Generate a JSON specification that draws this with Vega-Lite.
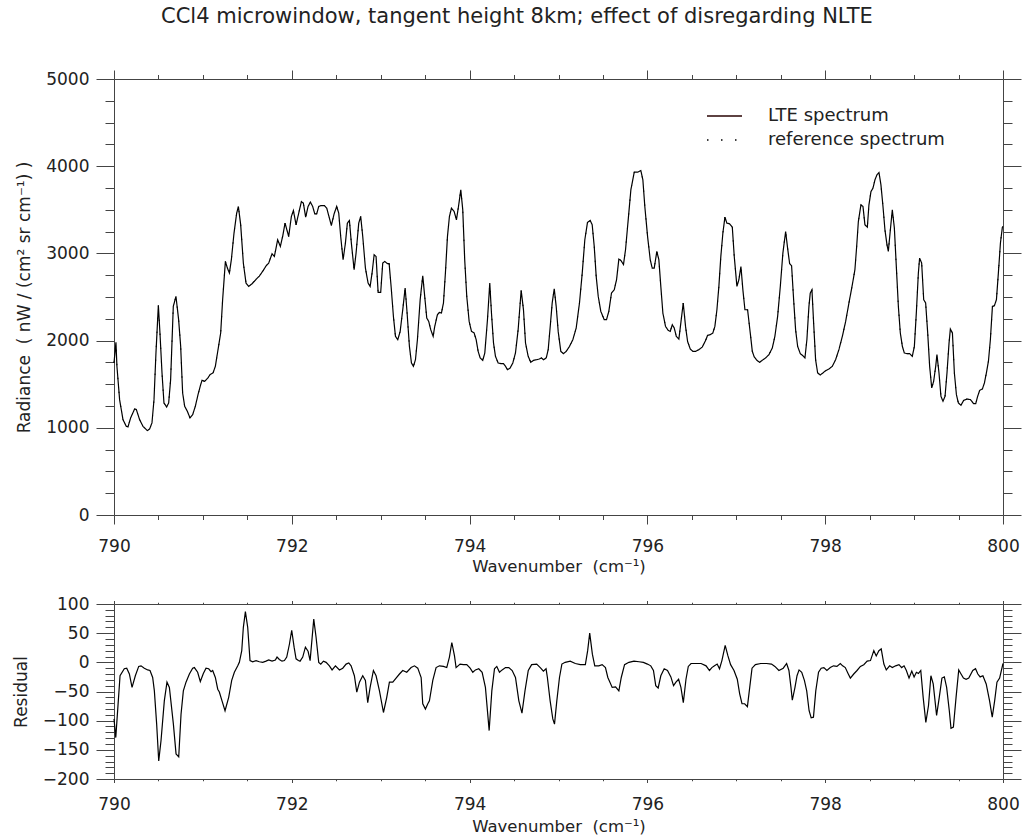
{
"$schema": "https://vega.github.io/schema/vega-lite/v6.json",
"background": "white",
"padding": {"left": 12, "top": 5, "right": 4, "bottom": 4},
"title": {"text": "CCl4 microwindow, tangent height 8km; effect of disregarding NLTE", "fontSize": 21, "fontWeight": "normal", "font": "DejaVu Sans", "color": "#222", "anchor": "middle", "frame": "bounds", "offset": 43},
"config": {
  "font": "DejaVu Sans",
  "view": {"stroke": null},
  "axis": {"domainColor": "#444", "tickColor": "#444", "labelColor": "#222", "titleColor": "#222", "labelFontSize": 17, "titleFontSize": 16.5, "titleFontWeight": "normal", "grid": false, "labelFont": "DejaVu Sans", "titleFont": "DejaVu Sans", "tickWidth": 1, "domainWidth": 1, "labelFlush": false, "labelOverlap": false}
},
"spacing": 89,
"bounds": "flush",
"datasets": {
"spec": [
{"wn":790.000,"lte":1745,"ref":1745},{"wn":790.022,"lte":1980,"ref":1980},{"wn":790.033,"lte":1705,"ref":1705},{"wn":790.063,"lte":1323,"ref":1323},{"wn":790.101,"lte":1094,"ref":1094},{"wn":790.138,"lte":1017,"ref":1017},{"wn":790.157,"lte":1010,"ref":1010},{"wn":790.187,"lte":1113,"ref":1113},{"wn":790.232,"lte":1216,"ref":1216},{"wn":790.251,"lte":1210,"ref":1210},{"wn":790.288,"lte":1094,"ref":1094},{"wn":790.326,"lte":1017,"ref":1017},{"wn":790.375,"lte":968,"ref":968},{"wn":790.401,"lte":987,"ref":987},{"wn":790.427,"lte":1056,"ref":1056},{"wn":790.450,"lte":1323,"ref":1323},{"wn":790.472,"lte":1858,"ref":1858},{"wn":790.499,"lte":2404,"ref":2404},{"wn":790.517,"lte":2087,"ref":2087},{"wn":790.540,"lte":1629,"ref":1629},{"wn":790.562,"lte":1285,"ref":1285},{"wn":790.592,"lte":1239,"ref":1239},{"wn":790.615,"lte":1285,"ref":1285},{"wn":790.637,"lte":1552,"ref":1552},{"wn":790.667,"lte":2392,"ref":2392},{"wn":790.697,"lte":2507,"ref":2507},{"wn":790.727,"lte":2240,"ref":2240},{"wn":790.750,"lte":1934,"ref":1934},{"wn":790.772,"lte":1400,"ref":1400},{"wn":790.795,"lte":1247,"ref":1247},{"wn":790.825,"lte":1189,"ref":1189},{"wn":790.855,"lte":1113,"ref":1113},{"wn":790.885,"lte":1151,"ref":1151},{"wn":790.915,"lte":1247,"ref":1247},{"wn":790.945,"lte":1380,"ref":1380},{"wn":790.975,"lte":1495,"ref":1495},{"wn":790.990,"lte":1544,"ref":1544},{"wn":791.020,"lte":1533,"ref":1533},{"wn":791.057,"lte":1572,"ref":1572},{"wn":791.080,"lte":1610,"ref":1610},{"wn":791.114,"lte":1629,"ref":1629},{"wn":791.140,"lte":1705,"ref":1705},{"wn":791.170,"lte":1896,"ref":1896},{"wn":791.200,"lte":2087,"ref":2087},{"wn":791.222,"lte":2469,"ref":2469},{"wn":791.253,"lte":2908,"ref":2908},{"wn":791.275,"lte":2832,"ref":2832},{"wn":791.298,"lte":2775,"ref":2775},{"wn":791.320,"lte":2927,"ref":2927},{"wn":791.350,"lte":3233,"ref":3233},{"wn":791.380,"lte":3462,"ref":3462},{"wn":791.399,"lte":3538,"ref":3538},{"wn":791.425,"lte":3328,"ref":3328},{"wn":791.455,"lte":2889,"ref":2889},{"wn":791.485,"lte":2660,"ref":2660},{"wn":791.515,"lte":2621,"ref":2621},{"wn":791.553,"lte":2652,"ref":2652},{"wn":791.601,"lte":2706,"ref":2706},{"wn":791.635,"lte":2740,"ref":2740},{"wn":791.680,"lte":2806,"ref":2806},{"wn":791.711,"lte":2858,"ref":2858},{"wn":791.740,"lte":2889,"ref":2889},{"wn":791.778,"lte":2996,"ref":2996},{"wn":791.804,"lte":2965,"ref":2965},{"wn":791.841,"lte":3156,"ref":3156},{"wn":791.871,"lte":3080,"ref":3080},{"wn":791.897,"lte":3194,"ref":3194},{"wn":791.924,"lte":3347,"ref":3347},{"wn":791.965,"lte":3194,"ref":3194},{"wn":791.995,"lte":3423,"ref":3423},{"wn":792.018,"lte":3492,"ref":3492},{"wn":792.048,"lte":3328,"ref":3328},{"wn":792.078,"lte":3462,"ref":3462},{"wn":792.108,"lte":3595,"ref":3595},{"wn":792.130,"lte":3576,"ref":3576},{"wn":792.156,"lte":3416,"ref":3416},{"wn":792.183,"lte":3538,"ref":3538},{"wn":792.209,"lte":3588,"ref":3588},{"wn":792.235,"lte":3538,"ref":3538},{"wn":792.258,"lte":3454,"ref":3454},{"wn":792.280,"lte":3454,"ref":3454},{"wn":792.303,"lte":3538,"ref":3538},{"wn":792.329,"lte":3549,"ref":3549},{"wn":792.367,"lte":3549,"ref":3549},{"wn":792.393,"lte":3519,"ref":3519},{"wn":792.423,"lte":3404,"ref":3404},{"wn":792.445,"lte":3320,"ref":3320},{"wn":792.476,"lte":3454,"ref":3454},{"wn":792.505,"lte":3538,"ref":3538},{"wn":792.528,"lte":3462,"ref":3462},{"wn":792.550,"lte":3194,"ref":3194},{"wn":792.577,"lte":2927,"ref":2927},{"wn":792.603,"lte":3118,"ref":3118},{"wn":792.625,"lte":3347,"ref":3347},{"wn":792.648,"lte":3377,"ref":3377},{"wn":792.670,"lte":3118,"ref":3118},{"wn":792.701,"lte":2812,"ref":2812},{"wn":792.723,"lte":3004,"ref":3004},{"wn":792.753,"lte":3347,"ref":3347},{"wn":792.775,"lte":3423,"ref":3423},{"wn":792.798,"lte":3194,"ref":3194},{"wn":792.828,"lte":2832,"ref":2832},{"wn":792.858,"lte":2660,"ref":2660},{"wn":792.881,"lte":2621,"ref":2621},{"wn":792.903,"lte":2775,"ref":2775},{"wn":792.926,"lte":2984,"ref":2984},{"wn":792.948,"lte":2965,"ref":2965},{"wn":792.971,"lte":2553,"ref":2553},{"wn":793.000,"lte":2553,"ref":2553},{"wn":793.023,"lte":2889,"ref":2889},{"wn":793.045,"lte":2908,"ref":2908},{"wn":793.076,"lte":2882,"ref":2882},{"wn":793.095,"lte":2882,"ref":2882},{"wn":793.117,"lte":2621,"ref":2621},{"wn":793.143,"lte":2278,"ref":2278},{"wn":793.166,"lte":2049,"ref":2049},{"wn":793.192,"lte":2010,"ref":2010},{"wn":793.219,"lte":2106,"ref":2106},{"wn":793.248,"lte":2354,"ref":2354},{"wn":793.275,"lte":2603,"ref":2603},{"wn":793.297,"lte":2316,"ref":2316},{"wn":793.323,"lte":1934,"ref":1934},{"wn":793.346,"lte":1743,"ref":1743},{"wn":793.368,"lte":1705,"ref":1705},{"wn":793.391,"lte":1781,"ref":1781},{"wn":793.413,"lte":2010,"ref":2010},{"wn":793.444,"lte":2469,"ref":2469},{"wn":793.473,"lte":2744,"ref":2744},{"wn":793.495,"lte":2507,"ref":2507},{"wn":793.518,"lte":2259,"ref":2259},{"wn":793.540,"lte":2220,"ref":2220},{"wn":793.563,"lte":2125,"ref":2125},{"wn":793.590,"lte":2049,"ref":2049},{"wn":793.608,"lte":2163,"ref":2163},{"wn":793.638,"lte":2297,"ref":2297},{"wn":793.661,"lte":2324,"ref":2324},{"wn":793.683,"lte":2316,"ref":2316},{"wn":793.706,"lte":2431,"ref":2431},{"wn":793.728,"lte":2775,"ref":2775},{"wn":793.751,"lte":3194,"ref":3194},{"wn":793.773,"lte":3423,"ref":3423},{"wn":793.796,"lte":3519,"ref":3519},{"wn":793.826,"lte":3481,"ref":3481},{"wn":793.852,"lte":3385,"ref":3385},{"wn":793.875,"lte":3538,"ref":3538},{"wn":793.901,"lte":3729,"ref":3729},{"wn":793.923,"lte":3500,"ref":3500},{"wn":793.945,"lte":2927,"ref":2927},{"wn":793.968,"lte":2507,"ref":2507},{"wn":793.995,"lte":2220,"ref":2220},{"wn":794.021,"lte":2106,"ref":2106},{"wn":794.051,"lte":2087,"ref":2087},{"wn":794.074,"lte":2010,"ref":2010},{"wn":794.096,"lte":1877,"ref":1877},{"wn":794.119,"lte":1801,"ref":1801},{"wn":794.148,"lte":1774,"ref":1774},{"wn":794.171,"lte":1858,"ref":1858},{"wn":794.201,"lte":2240,"ref":2240},{"wn":794.227,"lte":2660,"ref":2660},{"wn":794.246,"lte":2316,"ref":2316},{"wn":794.269,"lte":1972,"ref":1972},{"wn":794.291,"lte":1820,"ref":1820},{"wn":794.321,"lte":1743,"ref":1743},{"wn":794.351,"lte":1736,"ref":1736},{"wn":794.381,"lte":1736,"ref":1736},{"wn":794.404,"lte":1705,"ref":1705},{"wn":794.426,"lte":1667,"ref":1667},{"wn":794.456,"lte":1686,"ref":1686},{"wn":794.486,"lte":1743,"ref":1743},{"wn":794.516,"lte":1858,"ref":1858},{"wn":794.546,"lte":2125,"ref":2125},{"wn":794.580,"lte":2576,"ref":2576},{"wn":794.606,"lte":2354,"ref":2354},{"wn":794.629,"lte":1972,"ref":1972},{"wn":794.659,"lte":1820,"ref":1820},{"wn":794.688,"lte":1751,"ref":1751},{"wn":794.719,"lte":1774,"ref":1774},{"wn":794.756,"lte":1781,"ref":1781},{"wn":794.783,"lte":1789,"ref":1789},{"wn":794.809,"lte":1801,"ref":1801},{"wn":794.831,"lte":1781,"ref":1781},{"wn":794.862,"lte":1801,"ref":1801},{"wn":794.884,"lte":1896,"ref":1896},{"wn":794.907,"lte":2163,"ref":2163},{"wn":794.929,"lte":2431,"ref":2431},{"wn":794.952,"lte":2595,"ref":2595},{"wn":794.974,"lte":2392,"ref":2392},{"wn":794.997,"lte":2100,"ref":2100},{"wn":795.026,"lte":1877,"ref":1877},{"wn":795.056,"lte":1850,"ref":1850},{"wn":795.087,"lte":1877,"ref":1877},{"wn":795.124,"lte":1934,"ref":1934},{"wn":795.161,"lte":2010,"ref":2010},{"wn":795.199,"lte":2144,"ref":2144},{"wn":795.236,"lte":2431,"ref":2431},{"wn":795.267,"lte":2775,"ref":2775},{"wn":795.296,"lte":3156,"ref":3156},{"wn":795.326,"lte":3355,"ref":3355},{"wn":795.357,"lte":3377,"ref":3377},{"wn":795.379,"lte":3328,"ref":3328},{"wn":795.402,"lte":3080,"ref":3080},{"wn":795.424,"lte":2736,"ref":2736},{"wn":795.447,"lte":2507,"ref":2507},{"wn":795.476,"lte":2335,"ref":2335},{"wn":795.514,"lte":2240,"ref":2240},{"wn":795.540,"lte":2240,"ref":2240},{"wn":795.566,"lte":2335,"ref":2335},{"wn":795.596,"lte":2545,"ref":2545},{"wn":795.627,"lte":2583,"ref":2583},{"wn":795.653,"lte":2698,"ref":2698},{"wn":795.679,"lte":2935,"ref":2935},{"wn":795.701,"lte":2920,"ref":2920},{"wn":795.731,"lte":2873,"ref":2873},{"wn":795.754,"lte":3042,"ref":3042},{"wn":795.784,"lte":3385,"ref":3385},{"wn":795.814,"lte":3729,"ref":3729},{"wn":795.852,"lte":3931,"ref":3931},{"wn":795.889,"lte":3931,"ref":3931},{"wn":795.926,"lte":3950,"ref":3950},{"wn":795.949,"lte":3844,"ref":3844},{"wn":795.971,"lte":3538,"ref":3538},{"wn":796.002,"lte":3194,"ref":3194},{"wn":796.032,"lte":2927,"ref":2927},{"wn":796.054,"lte":2832,"ref":2832},{"wn":796.077,"lte":2832,"ref":2832},{"wn":796.106,"lte":3023,"ref":3023},{"wn":796.129,"lte":2927,"ref":2927},{"wn":796.151,"lte":2621,"ref":2621},{"wn":796.174,"lte":2316,"ref":2316},{"wn":796.204,"lte":2163,"ref":2163},{"wn":796.234,"lte":2117,"ref":2117},{"wn":796.257,"lte":2106,"ref":2106},{"wn":796.280,"lte":2182,"ref":2182},{"wn":796.302,"lte":2144,"ref":2144},{"wn":796.325,"lte":2049,"ref":2049},{"wn":796.354,"lte":2018,"ref":2018},{"wn":796.376,"lte":2201,"ref":2201},{"wn":796.403,"lte":2431,"ref":2431},{"wn":796.429,"lte":2163,"ref":2163},{"wn":796.452,"lte":1991,"ref":1991},{"wn":796.482,"lte":1904,"ref":1904},{"wn":796.511,"lte":1877,"ref":1877},{"wn":796.542,"lte":1877,"ref":1877},{"wn":796.579,"lte":1896,"ref":1896},{"wn":796.617,"lte":1926,"ref":1926},{"wn":796.654,"lte":2000,"ref":2000},{"wn":796.677,"lte":2060,"ref":2060},{"wn":796.707,"lte":2068,"ref":2068},{"wn":796.736,"lte":2087,"ref":2087},{"wn":796.759,"lte":2163,"ref":2163},{"wn":796.782,"lte":2354,"ref":2354},{"wn":796.804,"lte":2621,"ref":2621},{"wn":796.826,"lte":2965,"ref":2965},{"wn":796.849,"lte":3233,"ref":3233},{"wn":796.872,"lte":3416,"ref":3416},{"wn":796.894,"lte":3347,"ref":3347},{"wn":796.924,"lte":3339,"ref":3339},{"wn":796.955,"lte":3301,"ref":3301},{"wn":796.977,"lte":2965,"ref":2965},{"wn":797.007,"lte":2621,"ref":2621},{"wn":797.029,"lte":2698,"ref":2698},{"wn":797.052,"lte":2850,"ref":2850},{"wn":797.074,"lte":2583,"ref":2583},{"wn":797.097,"lte":2354,"ref":2354},{"wn":797.127,"lte":2354,"ref":2354},{"wn":797.157,"lte":2087,"ref":2087},{"wn":797.180,"lte":1877,"ref":1877},{"wn":797.202,"lte":1812,"ref":1812},{"wn":797.232,"lte":1774,"ref":1774},{"wn":797.262,"lte":1751,"ref":1751},{"wn":797.292,"lte":1774,"ref":1774},{"wn":797.329,"lte":1801,"ref":1801},{"wn":797.367,"lte":1839,"ref":1839},{"wn":797.405,"lte":1915,"ref":1915},{"wn":797.434,"lte":2049,"ref":2049},{"wn":797.465,"lte":2278,"ref":2278},{"wn":797.495,"lte":2621,"ref":2621},{"wn":797.524,"lte":3004,"ref":3004},{"wn":797.555,"lte":3251,"ref":3251},{"wn":797.577,"lte":3061,"ref":3061},{"wn":797.600,"lte":2882,"ref":2882},{"wn":797.622,"lte":2858,"ref":2858},{"wn":797.645,"lte":2469,"ref":2469},{"wn":797.667,"lte":2125,"ref":2125},{"wn":797.690,"lte":1934,"ref":1934},{"wn":797.720,"lte":1850,"ref":1850},{"wn":797.749,"lte":1827,"ref":1827},{"wn":797.772,"lte":1801,"ref":1801},{"wn":797.794,"lte":2010,"ref":2010},{"wn":797.817,"lte":2392,"ref":2392},{"wn":797.832,"lte":2545,"ref":2545},{"wn":797.851,"lte":2583,"ref":2583},{"wn":797.870,"lte":2201,"ref":2201},{"wn":797.892,"lte":1781,"ref":1781},{"wn":797.915,"lte":1629,"ref":1629},{"wn":797.945,"lte":1606,"ref":1606},{"wn":797.974,"lte":1629,"ref":1629},{"wn":798.005,"lte":1655,"ref":1655},{"wn":798.042,"lte":1675,"ref":1675},{"wn":798.080,"lte":1705,"ref":1705},{"wn":798.117,"lte":1781,"ref":1781},{"wn":798.154,"lte":1896,"ref":1896},{"wn":798.193,"lte":2049,"ref":2049},{"wn":798.230,"lte":2220,"ref":2220},{"wn":798.267,"lte":2431,"ref":2431},{"wn":798.305,"lte":2640,"ref":2640},{"wn":798.334,"lte":2812,"ref":2812},{"wn":798.354,"lte":3080,"ref":3080},{"wn":798.373,"lte":3366,"ref":3366},{"wn":798.402,"lte":3557,"ref":3557},{"wn":798.425,"lte":3538,"ref":3538},{"wn":798.447,"lte":3328,"ref":3328},{"wn":798.474,"lte":3301,"ref":3301},{"wn":798.492,"lte":3557,"ref":3557},{"wn":798.515,"lte":3710,"ref":3710},{"wn":798.537,"lte":3748,"ref":3748},{"wn":798.560,"lte":3844,"ref":3844},{"wn":798.582,"lte":3901,"ref":3901},{"wn":798.605,"lte":3927,"ref":3927},{"wn":798.627,"lte":3786,"ref":3786},{"wn":798.650,"lte":3538,"ref":3538},{"wn":798.672,"lte":3271,"ref":3271},{"wn":798.695,"lte":3099,"ref":3099},{"wn":798.710,"lte":3023,"ref":3023},{"wn":798.733,"lte":3271,"ref":3271},{"wn":798.755,"lte":3500,"ref":3500},{"wn":798.778,"lte":3290,"ref":3290},{"wn":798.800,"lte":2850,"ref":2850},{"wn":798.823,"lte":2392,"ref":2392},{"wn":798.845,"lte":2087,"ref":2087},{"wn":798.868,"lte":1934,"ref":1934},{"wn":798.890,"lte":1858,"ref":1858},{"wn":798.920,"lte":1850,"ref":1850},{"wn":798.950,"lte":1850,"ref":1850},{"wn":798.980,"lte":1820,"ref":1820},{"wn":799.003,"lte":1934,"ref":1934},{"wn":799.025,"lte":2316,"ref":2316},{"wn":799.048,"lte":2775,"ref":2775},{"wn":799.062,"lte":2946,"ref":2946},{"wn":799.085,"lte":2889,"ref":2889},{"wn":799.108,"lte":2469,"ref":2469},{"wn":799.130,"lte":2431,"ref":2431},{"wn":799.153,"lte":2087,"ref":2087},{"wn":799.175,"lte":1705,"ref":1705},{"wn":799.198,"lte":1457,"ref":1457},{"wn":799.220,"lte":1533,"ref":1533},{"wn":799.243,"lte":1705,"ref":1705},{"wn":799.257,"lte":1839,"ref":1839},{"wn":799.280,"lte":1629,"ref":1629},{"wn":799.302,"lte":1361,"ref":1361},{"wn":799.325,"lte":1304,"ref":1304},{"wn":799.348,"lte":1361,"ref":1361},{"wn":799.370,"lte":1629,"ref":1629},{"wn":799.393,"lte":1972,"ref":1972},{"wn":799.408,"lte":2133,"ref":2133},{"wn":799.431,"lte":2087,"ref":2087},{"wn":799.453,"lte":1629,"ref":1629},{"wn":799.476,"lte":1380,"ref":1380},{"wn":799.498,"lte":1285,"ref":1285},{"wn":799.527,"lte":1258,"ref":1258},{"wn":799.558,"lte":1315,"ref":1315},{"wn":799.595,"lte":1330,"ref":1330},{"wn":799.633,"lte":1323,"ref":1323},{"wn":799.670,"lte":1277,"ref":1277},{"wn":799.693,"lte":1277,"ref":1277},{"wn":799.715,"lte":1361,"ref":1361},{"wn":799.738,"lte":1430,"ref":1430},{"wn":799.768,"lte":1445,"ref":1445},{"wn":799.791,"lte":1514,"ref":1514},{"wn":799.813,"lte":1629,"ref":1629},{"wn":799.836,"lte":1762,"ref":1762},{"wn":799.858,"lte":2010,"ref":2010},{"wn":799.881,"lte":2392,"ref":2392},{"wn":799.903,"lte":2400,"ref":2400},{"wn":799.926,"lte":2469,"ref":2469},{"wn":799.948,"lte":2775,"ref":2775},{"wn":799.971,"lte":3118,"ref":3118},{"wn":799.993,"lte":3301,"ref":3301},{"wn":800.000,"lte":3309,"ref":3309}
],
"resid": [
{"wn":790.000,"res":-97},{"wn":790.020,"res":-129},{"wn":790.068,"res":-23},{"wn":790.116,"res":-11},{"wn":790.143,"res":-10},{"wn":790.173,"res":-20},{"wn":790.203,"res":-43},{"wn":790.240,"res":-23},{"wn":790.278,"res":-7},{"wn":790.304,"res":-6},{"wn":790.341,"res":-10},{"wn":790.379,"res":-13},{"wn":790.405,"res":-14},{"wn":790.435,"res":-26},{"wn":790.454,"res":-49},{"wn":790.480,"res":-106},{"wn":790.503,"res":-169},{"wn":790.529,"res":-134},{"wn":790.566,"res":-66},{"wn":790.596,"res":-34},{"wn":790.623,"res":-43},{"wn":790.668,"res":-106},{"wn":790.698,"res":-157},{"wn":790.728,"res":-162},{"wn":790.754,"res":-89},{"wn":790.780,"res":-49},{"wn":790.810,"res":-34},{"wn":790.848,"res":-20},{"wn":790.885,"res":-10},{"wn":790.904,"res":-9},{"wn":790.941,"res":-17},{"wn":790.971,"res":-33},{"wn":791.005,"res":-19},{"wn":791.035,"res":-10},{"wn":791.065,"res":-11},{"wn":791.092,"res":-16},{"wn":791.110,"res":-14},{"wn":791.140,"res":-26},{"wn":791.167,"res":-46},{"wn":791.185,"res":-51},{"wn":791.215,"res":-66},{"wn":791.249,"res":-83},{"wn":791.290,"res":-60},{"wn":791.324,"res":-31},{"wn":791.354,"res":-17},{"wn":791.392,"res":-6},{"wn":791.410,"res":0},{"wn":791.437,"res":20},{"wn":791.455,"res":60},{"wn":791.478,"res":87},{"wn":791.504,"res":60},{"wn":791.530,"res":3},{"wn":791.560,"res":1},{"wn":791.598,"res":3},{"wn":791.635,"res":1},{"wn":791.673,"res":0},{"wn":791.710,"res":2},{"wn":791.740,"res":4},{"wn":791.778,"res":2},{"wn":791.815,"res":4},{"wn":791.834,"res":9},{"wn":791.860,"res":5},{"wn":791.890,"res":2},{"wn":791.917,"res":3},{"wn":791.943,"res":9},{"wn":791.973,"res":31},{"wn":791.999,"res":55},{"wn":792.026,"res":26},{"wn":792.048,"res":6},{"wn":792.074,"res":3},{"wn":792.093,"res":2},{"wn":792.123,"res":9},{"wn":792.153,"res":26},{"wn":792.183,"res":19},{"wn":792.206,"res":3},{"wn":792.247,"res":74},{"wn":792.273,"res":43},{"wn":792.303,"res":0},{"wn":792.326,"res":-3},{"wn":792.356,"res":2},{"wn":792.386,"res":0},{"wn":792.423,"res":-6},{"wn":792.453,"res":-13},{"wn":792.491,"res":-6},{"wn":792.536,"res":-13},{"wn":792.573,"res":-10},{"wn":792.611,"res":-3},{"wn":792.641,"res":-1},{"wn":792.667,"res":-6},{"wn":792.704,"res":-23},{"wn":792.731,"res":-51},{"wn":792.761,"res":-34},{"wn":792.798,"res":-23},{"wn":792.828,"res":-31},{"wn":792.854,"res":-69},{"wn":792.881,"res":-43},{"wn":792.918,"res":-14},{"wn":792.948,"res":-23},{"wn":792.986,"res":-49},{"wn":793.031,"res":-86},{"wn":793.068,"res":-60},{"wn":793.098,"res":-34},{"wn":793.136,"res":-34},{"wn":793.173,"res":-27},{"wn":793.211,"res":-20},{"wn":793.248,"res":-14},{"wn":793.293,"res":-17},{"wn":793.342,"res":-9},{"wn":793.380,"res":-6},{"wn":793.417,"res":-10},{"wn":793.455,"res":-26},{"wn":793.473,"res":-71},{"wn":793.503,"res":-80},{"wn":793.530,"res":-71},{"wn":793.548,"res":-66},{"wn":793.586,"res":-31},{"wn":793.623,"res":-9},{"wn":793.661,"res":-6},{"wn":793.706,"res":-7},{"wn":793.743,"res":-9},{"wn":793.773,"res":9},{"wn":793.800,"res":34},{"wn":793.830,"res":11},{"wn":793.848,"res":-9},{"wn":793.893,"res":-3},{"wn":793.931,"res":-4},{"wn":793.968,"res":-4},{"wn":794.006,"res":-10},{"wn":794.036,"res":-17},{"wn":794.066,"res":-13},{"wn":794.103,"res":-11},{"wn":794.141,"res":-17},{"wn":794.178,"res":-43},{"wn":794.220,"res":-117},{"wn":794.250,"res":-49},{"wn":794.280,"res":-11},{"wn":794.306,"res":-7},{"wn":794.336,"res":-17},{"wn":794.366,"res":-13},{"wn":794.404,"res":-9},{"wn":794.441,"res":-9},{"wn":794.479,"res":-14},{"wn":794.516,"res":-26},{"wn":794.554,"res":-66},{"wn":794.589,"res":-87},{"wn":794.623,"res":-49},{"wn":794.660,"res":-14},{"wn":794.698,"res":-4},{"wn":794.755,"res":-3},{"wn":794.800,"res":-10},{"wn":794.830,"res":-15},{"wn":794.860,"res":-11},{"wn":794.875,"res":-26},{"wn":794.906,"res":-66},{"wn":794.936,"res":-97},{"wn":794.955,"res":-106},{"wn":794.981,"res":-66},{"wn":795.011,"res":-26},{"wn":795.038,"res":-3},{"wn":795.075,"res":0},{"wn":795.132,"res":2},{"wn":795.189,"res":-2},{"wn":795.245,"res":-4},{"wn":795.302,"res":-4},{"wn":795.328,"res":20},{"wn":795.351,"res":50},{"wn":795.381,"res":14},{"wn":795.408,"res":-6},{"wn":795.453,"res":-6},{"wn":795.491,"res":-4},{"wn":795.528,"res":-9},{"wn":795.555,"res":-26},{"wn":795.604,"res":-43},{"wn":795.642,"res":-42},{"wn":795.679,"res":-49},{"wn":795.706,"res":-26},{"wn":795.743,"res":-4},{"wn":795.792,"res":0},{"wn":795.849,"res":2},{"wn":795.906,"res":1},{"wn":795.955,"res":0},{"wn":796.000,"res":-3},{"wn":796.038,"res":-6},{"wn":796.068,"res":-14},{"wn":796.094,"res":-40},{"wn":796.121,"res":-44},{"wn":796.151,"res":-23},{"wn":796.189,"res":-11},{"wn":796.226,"res":-14},{"wn":796.264,"res":-25},{"wn":796.294,"res":-40},{"wn":796.321,"res":-34},{"wn":796.351,"res":-29},{"wn":796.377,"res":-43},{"wn":796.404,"res":-69},{"wn":796.434,"res":-29},{"wn":796.460,"res":-7},{"wn":796.491,"res":-2},{"wn":796.540,"res":-2},{"wn":796.604,"res":-2},{"wn":796.660,"res":-6},{"wn":796.698,"res":-14},{"wn":796.725,"res":-9},{"wn":796.755,"res":-6},{"wn":796.785,"res":-3},{"wn":796.811,"res":-11},{"wn":796.838,"res":3},{"wn":796.875,"res":29},{"wn":796.906,"res":11},{"wn":796.936,"res":-4},{"wn":796.974,"res":-14},{"wn":797.011,"res":-29},{"wn":797.038,"res":-54},{"wn":797.064,"res":-71},{"wn":797.094,"res":-71},{"wn":797.125,"res":-76},{"wn":797.151,"res":-43},{"wn":797.177,"res":-10},{"wn":797.215,"res":-4},{"wn":797.275,"res":-2},{"wn":797.340,"res":-2},{"wn":797.396,"res":-3},{"wn":797.434,"res":-7},{"wn":797.479,"res":-14},{"wn":797.528,"res":-10},{"wn":797.566,"res":-2},{"wn":797.592,"res":-14},{"wn":797.615,"res":-43},{"wn":797.630,"res":-65},{"wn":797.660,"res":-43},{"wn":797.683,"res":-23},{"wn":797.706,"res":-13},{"wn":797.736,"res":-17},{"wn":797.766,"res":-31},{"wn":797.792,"res":-49},{"wn":797.819,"res":-83},{"wn":797.842,"res":-95},{"wn":797.868,"res":-94},{"wn":797.894,"res":-49},{"wn":797.925,"res":-17},{"wn":797.955,"res":-10},{"wn":797.985,"res":-9},{"wn":798.019,"res":-14},{"wn":798.057,"res":-9},{"wn":798.094,"res":-6},{"wn":798.132,"res":-7},{"wn":798.170,"res":-2},{"wn":798.196,"res":-6},{"wn":798.226,"res":-9},{"wn":798.257,"res":-19},{"wn":798.283,"res":-27},{"wn":798.321,"res":-20},{"wn":798.358,"res":-14},{"wn":798.396,"res":-7},{"wn":798.434,"res":-4},{"wn":798.472,"res":2},{"wn":798.509,"res":3},{"wn":798.547,"res":20},{"wn":798.574,"res":11},{"wn":798.604,"res":20},{"wn":798.630,"res":23},{"wn":798.660,"res":-3},{"wn":798.687,"res":-13},{"wn":798.725,"res":-6},{"wn":798.755,"res":-9},{"wn":798.792,"res":-6},{"wn":798.830,"res":-4},{"wn":798.860,"res":-9},{"wn":798.887,"res":-6},{"wn":798.913,"res":-14},{"wn":798.943,"res":-27},{"wn":798.974,"res":-15},{"wn":799.000,"res":-25},{"wn":799.026,"res":-17},{"wn":799.049,"res":-19},{"wn":799.075,"res":-14},{"wn":799.102,"res":-60},{"wn":799.132,"res":-103},{"wn":799.162,"res":-74},{"wn":799.189,"res":-23},{"wn":799.215,"res":-37},{"wn":799.253,"res":-91},{"wn":799.283,"res":-60},{"wn":799.313,"res":-27},{"wn":799.340,"res":-25},{"wn":799.366,"res":-43},{"wn":799.396,"res":-83},{"wn":799.415,"res":-113},{"wn":799.442,"res":-111},{"wn":799.472,"res":-60},{"wn":799.502,"res":-13},{"wn":799.528,"res":-20},{"wn":799.555,"res":-27},{"wn":799.585,"res":-29},{"wn":799.615,"res":-27},{"wn":799.660,"res":-14},{"wn":799.691,"res":-11},{"wn":799.717,"res":-20},{"wn":799.743,"res":-25},{"wn":799.774,"res":-23},{"wn":799.811,"res":-37},{"wn":799.849,"res":-66},{"wn":799.879,"res":-94},{"wn":799.906,"res":-66},{"wn":799.932,"res":-34},{"wn":799.962,"res":-27},{"wn":800.000,"res":-2}
]
},
"vconcat": [
{
  "width": 889, "height": 436,
  "data": {"name": "spec"},
  "layer": [
    {
      "mark": {"type": "line", "stroke": "black", "strokeWidth": 1.2},
      "encoding": {
        "x": {"field": "wn", "type": "quantitative", "scale": {"domain": [790, 800], "nice": false, "zero": false},
          "axis": {"orient": "bottom", "values": [790,790.5,791,791.5,792,792.5,793,793.5,794,794.5,795,795.5,796,796.5,797,797.5,798,798.5,799,799.5,800],
            "tickSize": {"condition": {"test": "datum.value % 2 === 0", "value": 9}, "value": 4.5},
            "labelExpr": "datum.value % 2 === 0 ? format(datum.value, 'd') : ''",
            "labelPadding": 14, "title": "Wavenumber\u00a0\u00a0(cm⁻¹)", "titlePadding": 4}},
        "y": {"field": "lte", "type": "quantitative", "scale": {"domain": [0, 5000], "nice": false},
          "axis": {"orient": "left", "values": [0,250,500,750,1000,1250,1500,1750,2000,2250,2500,2750,3000,3250,3500,3750,4000,4250,4500,4750,5000],
            "tickSize": {"condition": {"test": "datum.value % 1000 === 0", "value": 18}, "value": 9},
            "labelExpr": "datum.value % 1000 === 0 ? format(datum.value, 'd') : ''",
            "labelPadding": 7, "title": "Radiance\u00a0\u00a0(\u00a0nW\u00a0/\u00a0(cm²\u00a0sr\u00a0cm⁻¹)\u00a0)", "titleFontSize": 17, "titlePadding": 12}},
        "strokeDash": {"datum": "LTE spectrum", "type": "nominal",
          "scale": {"domain": ["LTE spectrum", "reference spectrum"], "range": [[1, 0], [1.5, 12.5]]},
          "legend": {"orient": "none", "legendX": 592, "legendY": 28, "title": null, "symbolType": "stroke", "symbolSize": 1225, "symbolStrokeWidth": 1.6, "symbolStrokeColor": "black", "clipHeight": 18, "labelFontSize": 18, "labelLimit": 0, "labelColor": "#222", "labelOffset": 25, "rowPadding": 6, "padding": 0,
            "encode": {"symbols": {"update": {"stroke": [{"test": "datum.value === 'LTE spectrum'", "value": "#2a0505"}, {"value": "black"}]}}}}
        }
      }
    },
    {
      "mark": {"type": "line", "stroke": "black", "strokeWidth": 1},
      "encoding": {
        "x": {"field": "wn", "type": "quantitative",
          "axis": {"orient": "top", "values": [790,790.5,791,791.5,792,792.5,793,793.5,794,794.5,795,795.5,796,796.5,797,797.5,798,798.5,799,799.5,800],
            "tickSize": {"condition": {"test": "datum.value % 2 === 0", "value": 9}, "value": 4.5}, "labels": false, "title": null}},
        "y": {"field": "ref", "type": "quantitative",
          "axis": {"orient": "right", "values": [0,250,500,750,1000,1250,1500,1750,2000,2250,2500,2750,3000,3250,3500,3750,4000,4250,4500,4750,5000],
            "tickSize": {"condition": {"test": "datum.value % 1000 === 0", "value": 18}, "value": 9}, "labels": false, "title": null}},
        "strokeDash": {"datum": "reference spectrum", "type": "nominal"}
      }
    }
  ],
  "resolve": {"axis": {"x": "independent", "y": "independent"}}
},
{
  "width": 889, "height": 175,
  "data": {"name": "resid"},
  "layer": [
    {
      "mark": {"type": "line", "stroke": "black", "strokeWidth": 1.2},
      "encoding": {
        "x": {"field": "wn", "type": "quantitative", "scale": {"domain": [790, 800], "nice": false, "zero": false},
          "axis": {"orient": "bottom", "values": [790,790.5,791,791.5,792,792.5,793,793.5,794,794.5,795,795.5,796,796.5,797,797.5,798,798.5,799,799.5,800],
            "tickSize": {"condition": {"test": "datum.value % 2 === 0", "value": 3.5}, "value": 1.75},
            "labelExpr": "datum.value % 2 === 0 ? format(datum.value, 'd') : ''",
            "labelPadding": 14, "title": "Wavenumber\u00a0\u00a0(cm⁻¹)", "titlePadding": 6}},
        "y": {"field": "res", "type": "quantitative", "scale": {"domain": [-200, 100], "nice": false, "zero": false},
          "axis": {"orient": "left", "values": [-200,-190,-180,-170,-160,-150,-140,-130,-120,-110,-100,-90,-80,-70,-60,-50,-40,-30,-20,-10,0,10,20,30,40,50,60,70,80,90,100],
            "tickSize": {"condition": {"test": "datum.value % 50 === 0", "value": 18}, "value": 9},
            "labelExpr": "datum.value % 50 === 0 ? format(datum.value, 'd') : ''",
            "labelPadding": 7, "title": "Residual", "titleFontSize": 17, "titlePadding": 12}}
      }
    },
    {
      "mark": {"type": "line", "stroke": "black", "opacity": 0},
      "encoding": {
        "x": {"field": "wn", "type": "quantitative",
          "axis": {"orient": "top", "values": [790,790.5,791,791.5,792,792.5,793,793.5,794,794.5,795,795.5,796,796.5,797,797.5,798,798.5,799,799.5,800],
            "tickSize": {"condition": {"test": "datum.value % 2 === 0", "value": 3.5}, "value": 1.75}, "labels": false, "title": null}},
        "y": {"field": "res", "type": "quantitative",
          "axis": {"orient": "right", "values": [-200,-190,-180,-170,-160,-150,-140,-130,-120,-110,-100,-90,-80,-70,-60,-50,-40,-30,-20,-10,0,10,20,30,40,50,60,70,80,90,100],
            "tickSize": {"condition": {"test": "datum.value % 50 === 0", "value": 18}, "value": 9}, "labels": false, "title": null}}
      }
    }
  ],
  "resolve": {"axis": {"x": "independent", "y": "independent"}}
}
]
}
